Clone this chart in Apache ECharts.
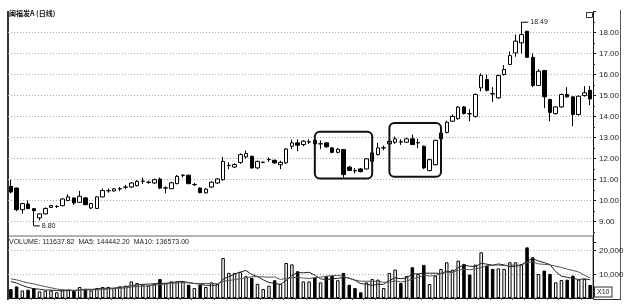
<!DOCTYPE html>
<html>
<head>
<meta charset="utf-8">
<script src="https://cdn.jsdelivr.net/npm/echarts/dist/echarts.min.js"></script>
<style>html,body{margin:0;padding:0;background:#fff}#c{width:630px;height:307px}</style>
</head>
<body>
<div id="c"></div>
<script>
const opens = [10.68,10.60,9.57,9.84,9.62,9.18,9.37,9.68,9.72,9.76,
10.01,10.13,9.92,10.13,9.65,9.63,10.18,10.47,10.46,10.56,
10.64,10.65,10.71,10.92,10.87,10.84,11.03,10.60,10.57,10.81,
11.20,11.21,10.76,10.60,10.37,10.65,10.84,11.00,11.67,11.60,
11.82,12.08,12.11,11.56,11.82,11.95,11.92,11.71,11.80,12.59,
12.75,12.67,12.79,12.87,12.70,12.75,12.51,12.30,12.43,11.60,
11.43,11.51,11.51,11.87,12.19,12.51,12.70,12.78,12.80,12.78,
12.94,12.75,12.59,11.43,11.71,12.94,13.25,13.78,13.90,14.46,
14.14,14.01,15.37,15.76,15.09,14.89,16.00,16.48,17.03,17.51,
18.06,16.82,15.48,16.19,14.81,14.14,14.46,15.05,14.94,14.10,
15.00,15.25];
const closes = [10.41,9.57,9.86,9.62,9.52,9.37,9.63,9.76,9.73,10.08,
10.18,9.89,10.21,9.81,9.86,10.18,10.48,10.48,10.56,10.57,
10.65,10.84,10.92,10.93,10.88,11.00,10.60,10.61,10.85,11.16,
11.21,10.81,10.77,10.38,10.55,10.88,11.03,11.87,11.68,11.72,
12.19,12.24,11.56,11.87,11.83,11.96,11.80,11.82,12.46,12.75,
12.64,12.83,12.80,12.70,12.71,12.56,12.30,12.45,11.24,11.44,
11.42,11.38,11.99,12.27,12.51,12.52,12.83,12.94,12.79,12.94,
12.67,12.76,11.56,11.95,12.87,13.22,13.73,14.01,14.45,14.15,
14.13,15.05,15.95,15.25,15.08,15.95,16.24,16.90,17.59,17.90,
16.82,15.48,16.16,14.94,14.20,14.46,15.05,14.94,14.10,14.97,
15.13,14.84];
const lows = [10.35,9.50,9.38,9.60,8.80,9.06,9.35,9.66,9.65,9.74,
9.98,9.80,9.90,9.78,9.60,9.60,10.15,10.38,10.44,10.45,
10.55,10.60,10.68,10.80,10.80,10.80,10.55,10.35,10.55,10.78,
11.10,10.78,10.70,10.35,10.35,10.60,10.80,10.95,11.50,11.55,
11.75,12.00,11.52,11.50,11.78,11.85,11.75,11.50,11.75,12.46,
12.35,12.60,12.70,12.65,12.45,12.52,12.25,12.25,11.10,11.40,
11.30,11.35,11.48,11.85,12.15,12.40,12.65,12.70,12.65,12.75,
12.64,12.50,11.50,11.40,11.68,12.90,13.20,13.75,13.85,14.10,
13.78,13.95,15.20,15.20,14.70,14.85,15.95,16.45,16.85,17.00,
16.80,15.40,15.45,14.40,13.78,14.10,14.42,14.90,13.54,14.05,
14.95,14.55];
const highs = [11.00,10.62,9.90,10.01,9.65,9.40,9.68,9.80,9.78,10.12,
10.30,10.15,10.47,10.18,9.90,10.20,10.58,10.58,10.60,10.65,
10.75,10.88,10.98,11.10,10.95,11.05,11.10,10.68,10.90,11.22,
11.26,11.24,10.85,10.62,10.60,10.92,11.08,12.08,11.82,11.78,
12.25,12.38,12.14,11.90,11.86,12.05,11.96,11.90,12.50,12.90,
12.92,12.88,12.92,12.90,12.87,12.78,12.55,12.50,12.45,11.65,
11.55,11.55,12.02,12.35,12.75,12.62,12.95,13.05,12.92,13.00,
13.15,12.95,12.62,11.98,12.90,13.30,13.80,14.10,14.50,14.50,
14.35,15.10,16.05,16.00,15.40,16.00,16.45,17.10,17.90,18.49,
18.08,17.00,16.25,16.22,14.85,14.50,15.10,15.40,14.97,15.00,
15.45,15.45];
const volumes = [3800,4900,3200,3500,4200,2800,3100,3200,2400,3500,
3500,3100,4650,3800,3200,4200,4650,4650,4200,4900,
5200,7000,6300,5600,5200,6000,8000,6300,7000,7000,
6800,5600,4200,5600,4650,6600,6000,16900,10600,10600,
10900,9200,8500,6000,3800,5200,7500,6000,14800,14200,
11300,7000,7000,8700,6600,9200,9400,7500,10600,5600,
4200,2400,6600,8000,7750,4200,10600,12000,6300,9300,
13000,10150,14000,5900,9450,12300,15100,12000,15800,14400,
9900,14100,19300,13700,12300,12500,12300,15100,15100,14400,
21400,17200,10150,11600,10150,6600,7600,7750,9450,7750,
8000,5500];
// volumes of the sessions just before the first visible one (estimated, used only for the moving averages)
const prevVolumes = [9000,10000,9500,8500,9000,8000,8500,7500,7000];
const categories = opens.map((_, i) => 'D' + (i + 1));
const priceTicks = {min: 8, max: 19, step: 1};
const volTicks = {min: 0, max: 26200, step: 10000};
const boxes = [[53, 63, 11.06, 13.28], [66, 75, 11.14, 13.69]];
const lowMark = {index: 4, value: 8.80, text: '8.80'};
const highMark = {index: 89, value: 18.49, text: '18.49'};
const titleText = '闽福发A (日线)';
const volText = 'VOLUME: 111637.82  MA5: 144442.20  MA10: 136573.00';

function movingAvg(n) {
  const all = prevVolumes.concat(volumes);
  const off = prevVolumes.length;
  return volumes.map((_, i) => {
    const end = i + off;
    let s = 0, c = 0;
    for (let j = Math.max(0, end - n + 1); j <= end; j++) { s += all[j]; c++; }
    return +(s / c).toFixed(1);
  });
}

const chart = echarts.init(document.getElementById('c'), null, {renderer: 'canvas'});
const option = {
  animation: false,
  backgroundColor: '#fff',
  textStyle: {fontFamily: 'Liberation Sans, Arial, sans-serif'},
  grid: [
    {left: 8, right: 37, top: 11.5, height: 231.2},
    {left: 8, right: 37, top: 236, height: 62, show: true, borderColor: '#666', borderWidth: 1}
  ],
  xAxis: [
    {type: 'category', gridIndex: 0, data: categories, show: false},
    {type: 'category', gridIndex: 1, data: categories,
     axisLine: {lineStyle: {color: '#111'}},
     axisTick: {show: true, length: 2, interval: 1, lineStyle: {color: '#555'}},
     axisLabel: {show: false}, splitLine: {show: false}}
  ],
  yAxis: [
    {type: 'value', gridIndex: 0, position: 'right', min: priceTicks.min, max: priceTicks.max, interval: priceTicks.step,
     axisLine: {show: true, lineStyle: {color: '#111'}},
     axisTick: {show: true, length: 3, lineStyle: {color: '#111'}},
     minorTick: {show: true, splitNumber: 2, length: 2, lineStyle: {color: '#333'}},
     axisLabel: {fontSize: 8, color: '#222', margin: 6, showMinLabel: false, showMaxLabel: false,
                 formatter: v => v.toFixed(2)},
     splitLine: {show: true, showMinLine: false, showMaxLine: false, lineStyle: {color: '#aaa', type: [1, 2]}}},
    {type: 'value', gridIndex: 1, position: 'right', min: volTicks.min, max: volTicks.max, interval: volTicks.step,
     axisLine: {show: true, lineStyle: {color: '#111'}},
     axisTick: {show: true, length: 3, lineStyle: {color: '#111'}},
     axisLabel: {fontSize: 8, color: '#222', margin: 6, showMinLabel: false, showMaxLabel: false},
     splitLine: {show: true, showMinLine: false, showMaxLine: false, lineStyle: {color: '#aaa', type: [1, 2]}}}
  ],
  series: [
    {type: 'candlestick', xAxisIndex: 0, yAxisIndex: 0, barWidth: 4,
     data: opens.map((o, i) => [o, closes[i], lows[i], highs[i]]),
     itemStyle: {color: '#fff', color0: '#000', borderColor: '#000', borderColor0: '#000', borderWidth: 1},
     markPoint: {
       symbol: 'rect', silent: true,
       data: [
         {coord: [categories[lowMark.index], lowMark.value], symbolSize: [6, 1], symbolOffset: [3, 0],
          itemStyle: {color: '#000'},
          label: {show: true, position: 'right', distance: 2, formatter: lowMark.text, fontSize: 7, color: '#222'}},
         {coord: [categories[highMark.index], highMark.value], symbolSize: [7, 1], symbolOffset: [3.5, 0],
          itemStyle: {color: '#000'},
          label: {show: true, position: 'right', distance: 2, formatter: highMark.text, fontSize: 7, color: '#222'}}
       ]
     }},
    {type: 'custom', xAxisIndex: 0, yAxisIndex: 0, data: boxes, clip: false, z: 10, silent: true,
     encode: {x: [0, 1], y: [2, 3]},
     renderItem: (params, api) => {
       const p0 = api.coord([api.value(0), api.value(3)]);
       const p1 = api.coord([api.value(1), api.value(2)]);
       return {type: 'rect', shape: {x: p0[0], y: p0[1], width: p1[0] - p0[0], height: p1[1] - p0[1], r: 5},
               style: {fill: 'none', stroke: '#111', lineWidth: 2}};
     }},
    {type: 'bar', xAxisIndex: 1, yAxisIndex: 1, barWidth: 3.5,
     data: volumes.map((v, i) => ({value: v,
       itemStyle: closes[i] >= opens[i]
         ? {color: '#fff', borderColor: '#000', borderWidth: 1}
         : {color: '#000', borderColor: '#000', borderWidth: 1}}))},
    {type: 'line', xAxisIndex: 1, yAxisIndex: 1, data: movingAvg(5), symbol: 'none', z: 5,
     lineStyle: {color: '#222', width: 1}},
    {type: 'line', xAxisIndex: 1, yAxisIndex: 1, data: movingAvg(10), symbol: 'none', z: 5,
     lineStyle: {color: '#555', width: 1}}
  ],
  graphic: [
    {type: 'line', shape: {x1: 8, y1: 11, x2: 8, y2: 300}, style: {stroke: '#333', lineWidth: 2}},
    {type: 'line', shape: {x1: 620.5, y1: 10, x2: 620.5, y2: 300}, style: {stroke: '#555', lineWidth: 1}},
    {type: 'line', shape: {x1: 593, y1: 299.5, x2: 621, y2: 299.5}, style: {stroke: '#333', lineWidth: 1}},
    {type: 'rect', shape: {x: 586.5, y: 12.5, width: 6, height: 5}, style: {fill: 'none', stroke: '#333', lineWidth: 1}},
    {type: 'text', x: 9, y: 13, style: {text: titleText, font: 'bold 7px "Noto Sans CJK SC"', fill: '#111', verticalAlign: 'middle'}},
    {type: 'text', x: 9, y: 242, style: {text: volText, font: '7px "Liberation Sans"', fill: '#222', verticalAlign: 'middle'}},
    {type: 'text', x: 595, y: 292, style: {text: 'X10', font: '7px "Liberation Sans"', fill: '#222', verticalAlign: 'middle',
      borderColor: '#333', borderWidth: 1, padding: [1, 2], backgroundColor: '#fff'}}
  ]
};
chart.setOption(option);
</script>
</body>
</html>
